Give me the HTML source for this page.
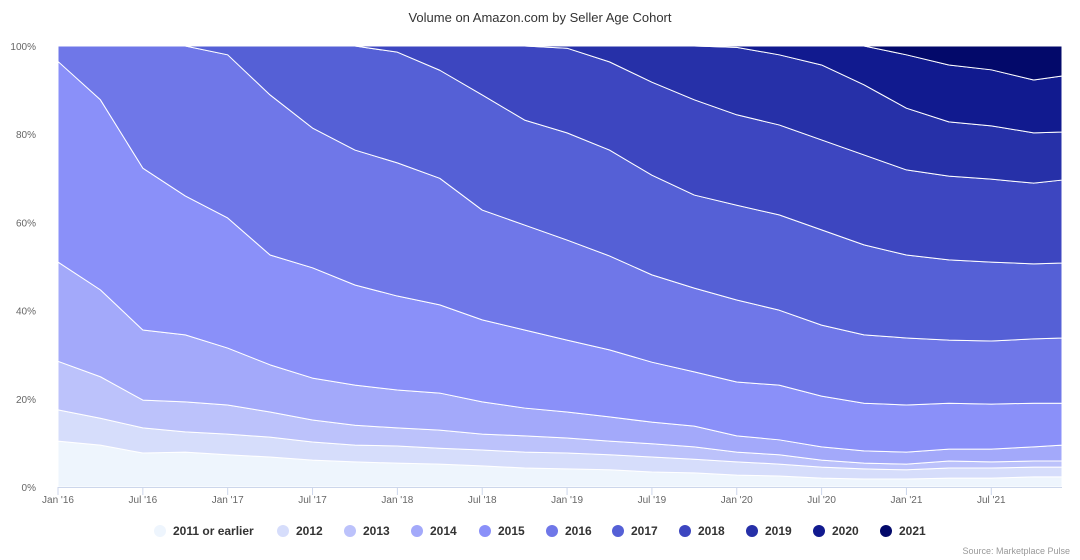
<!DOCTYPE html>
<html><head><meta charset="utf-8"><style>
body{margin:0;background:#fff;font-family:"Liberation Sans",sans-serif;}
</style></head><body>
<svg id="chart" width="1080" height="560" xmlns="http://www.w3.org/2000/svg" style="display:block">
<text x="540" y="22" text-anchor="middle" font-size="13" fill="#333">Volume on Amazon.com by Seller Age Cohort</text>
<g id="grid"></g><g id="areas"></g><g id="axes"></g><g id="legend"></g>
<text x="1070" y="554" text-anchor="end" font-size="9" fill="#999">Source: Marketplace Pulse</text>
</svg>
<script>
const months = [0,3,6,9,12,15,18,21,24,27,30,33,36,39,42,45,48,51,54,57,60,63,66,69,71];
const cohorts = ["2011 or earlier","2012","2013","2014","2015","2016","2017","2018","2019","2020","2021"];
const s2011 = [10.4,9.5,7.7,7.9,7.3,6.8,6.1,5.7,5.4,5.2,4.8,4.3,4.1,3.9,3.4,3.2,2.7,2.5,2,1.8,1.8,2,2,2.3,2.3];
const s2012 = [7.1,6.1,5.7,4.6,4.7,4.5,4.1,3.8,3.9,3.6,3.6,3.6,3.6,3.4,3.4,3.1,3,2.7,2.5,2.3,2.1,2.3,2.3,2.2,2.2];
const s2013 = [11,9.4,6.3,6.8,6.6,5.7,5,4.5,4.1,4.1,3.6,3.7,3.4,3.1,3,2.8,2.2,2.1,1.6,1.3,1.3,1.6,1.4,1.4,1.4];
const s2014 = [22.5,19.7,15.9,15.2,12.9,10.7,9.5,9.1,8.6,8.4,7.3,6.3,5.9,5.5,4.9,4.7,3.7,3.4,3,2.8,2.7,2.7,2.9,3.2,3.6];
const s2015 = [45.5,43.1,36.7,31.5,29.5,24.9,25,22.7,21.3,20,18.6,17.7,16.3,15.2,13.6,12.3,12.2,12.4,11.5,10.8,10.7,10.4,10.2,9.9,9.5];
const s2016 = [3.5,12.2,27.7,34,37,36.3,31.7,30.6,30.2,28.7,24.9,23.8,22.7,21.3,19.8,19,18.6,17,16.1,15.5,15.2,14.3,14.3,14.6,14.8];
const s2017 = [0,0,0,0,2,11.1,18.6,23.6,25.1,24.5,26.1,23.8,24.3,24,22.6,21.1,21.5,21.6,21.6,20.4,18.8,18.2,17.9,17,17];
const s2018 = [0,0,0,0,0,0,0,0,1.4,5.5,11.1,16.8,19.2,20,21.1,21.6,20.5,20.4,20.4,20.4,19.3,19,18.8,18.3,18.8];
const s2019 = [0,0,0,0,0,0,0,0,0,0,0,0,0.5,3.6,8.2,12.2,15.3,15.9,17,15.9,14,12.3,12.1,11.4,10.9];
const s2020 = [0,0,0,0,0,0,0,0,0,0,0,0,0,0,0,0,0.3,2,4.3,8.8,12.1,12.9,12.7,12,12.7];
const s2021 = [0,0,0,0,0,0,0,0,0,0,0,0,0,0,0,0,0,0,0,0,2,4.3,5.4,7.7,6.8];
const yTicks = [0,20,40,60,80,100];
const xTickMonths = [0,6,12,18,24,30,36,42,48,54,60,66];
const xTickLabels = ["Jan '16","Jul '16","Jan '17","Jul '17","Jan '18","Jul '18","Jan '19","Jul '19","Jan '20","Jul '20","Jan '21","Jul '21"];

const series=[s2011,s2012,s2013,s2014,s2015,s2016,s2017,s2018,s2019,s2020,s2021];
const colors=["#eef5fd","#d6ddfb","#bcc2fb","#a3a9fa","#8a90f9","#6f77e8","#5560d6","#3d46c0","#2630a8","#111a8f","#03096a"];
const NS="http://www.w3.org/2000/svg";
const X0=58,X1=1062,Y0=487,Y1=46;
const x=m=>X0+(X1-X0)*m/71;
const y=p=>Y0-(Y0-Y1)*p/100;
function mk(t,a,parent){const e=document.createElementNS(NS,t);for(const k in a)e.setAttribute(k,a[k]);parent.appendChild(e);return e;}
const grid=document.getElementById('grid'),areas=document.getElementById('areas'),axes=document.getElementById('axes'),legend=document.getElementById('legend');
yTicks.forEach(v=>{
  const l=mk('line',{x1:X0,x2:X1,y1:y(v),y2:y(v),stroke:'#e6e6e6'},grid);
  
  
  const t=mk('text',{x:36,y:y(v)+4,'text-anchor':'end','font-size':10,fill:'#666'},axes);
  t.textContent=v+'%';
  
  
});
let cum=months.map(()=>0);
series.forEach((s,i)=>{
  const low=cum.slice();const high=cum.map((c,j)=>c+s[j]);
  let d='M'+months.map((m,j)=>x(m)+','+y(high[j])).join('L');
  d+='L'+months.slice().reverse().map((m,k)=>{const j=months.length-1-k;return x(m)+','+y(low[j]);}).join('L')+'Z';
  const p=mk('path',{d:d,fill:colors[i],stroke:'#fff','stroke-width':1,'stroke-linejoin':'round'},areas);
  
  
  cum=high;
});
mk('line',{x1:X0,x2:X1,y1:Y0+0.5,y2:Y0+0.5,stroke:'#ccd6eb'},axes);
xTickMonths.forEach((m,i)=>{
  const tk=mk('line',{x1:x(m),x2:x(m),y1:Y0,y2:Y0+8,stroke:'#ccd6eb'},axes);
  
  
  const t=mk('text',{x:x(m),y:503,'text-anchor':'middle','font-size':10,fill:'#666'},axes);
  t.textContent=xTickLabels[i];
  
  
});
const lx=[160,283,350,417,485,552,618,685,752,819,886];
cohorts.forEach((c,i)=>{
  const g=mk('g',{},legend);
  
  
  mk('circle',{cx:lx[i],cy:531,r:6,fill:colors[i]},g);
  const t=mk('text',{x:lx[i]+13,y:535,'font-size':12,'font-weight':'bold',fill:'#333'},g);
  t.textContent=c;
});
</script>
</body></html>
